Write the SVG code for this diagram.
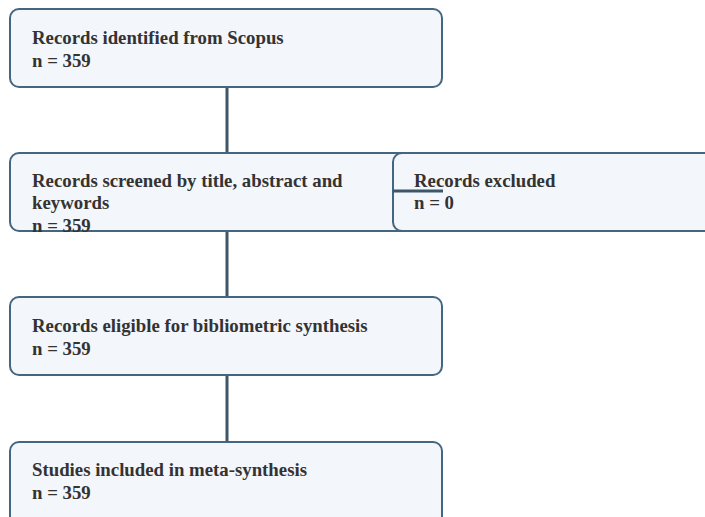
<svg xmlns="http://www.w3.org/2000/svg" width="705" height="517" viewBox="0 0 705 517">
<style>
.box{fill:#f3f6fa;stroke:#44667f;stroke-width:2}
.t{font-weight:bold;font-size:18.8px;fill:#333}
.c{stroke:#3e5669;stroke-width:3;fill:none}
</style>
<rect width="705" height="517" fill="#ffffff"/>
<g font-family="Liberation Serif, DejaVu Serif, serif">
<g id="identified">
<rect class="box" x="10" y="9" width="432" height="78" rx="9"/>
<text class="t" x="32" y="44">Records identified from Scopus</text>
<text class="t" x="32" y="67">n = 359</text>
</g>
<g id="screened">
<rect class="box" x="10" y="153" width="432" height="78" rx="9"/>
<text class="t" x="32" y="187">Records screened by title, abstract and</text>
<text class="t" x="32" y="209">keywords</text>
<text class="t" x="32" y="232">n = 359</text>
</g>
<g id="excluded">
<rect class="box" x="393" y="153" width="330" height="78" rx="9"/>
<text class="t" x="414" y="187">Records excluded</text>
<text class="t" x="414" y="209">n = 0</text>
</g>
<g id="eligible">
<rect class="box" x="10" y="297" width="432" height="78" rx="9"/>
<text class="t" x="32" y="332">Records eligible for bibliometric synthesis</text>
<text class="t" x="32" y="355">n = 359</text>
</g>
<g id="included">
<rect class="box" x="10" y="442" width="432" height="90" rx="9"/>
<text class="t" x="32" y="476">Studies included in meta-synthesis</text>
<text class="t" x="32" y="499">n = 359</text>
</g>
</g>
<g id="connectors">
<line class="c" x1="227" y1="88" x2="227" y2="152"/>
<line class="c" x1="227" y1="232" x2="227" y2="296"/>
<line class="c" x1="227" y1="376" x2="227" y2="441"/>
<line class="c" x1="393" y1="191" x2="443" y2="191"/>
</g>
</svg>
